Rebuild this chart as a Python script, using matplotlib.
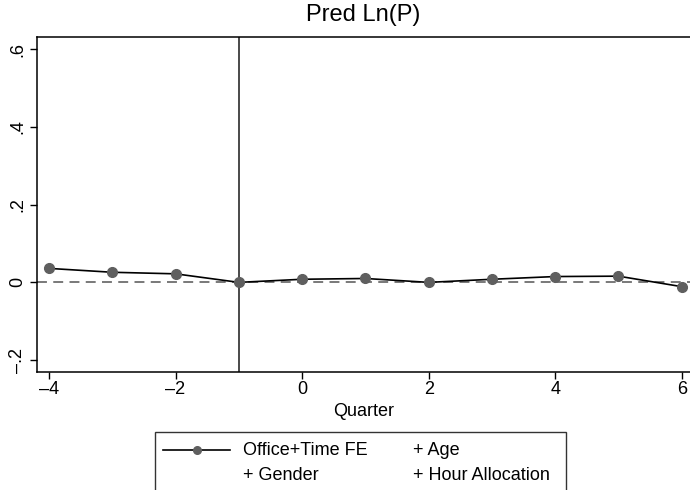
import matplotlib
matplotlib.use("Agg")
import matplotlib.pyplot as plt
from matplotlib.lines import Line2D
from matplotlib.patches import Rectangle

plt.rcParams['font.family'] = ['Liberation Sans', 'DejaVu Sans']

quarters = [-4, -3, -2, -1, 0, 1, 2, 3, 4, 5, 6]
pred_lnp = [0.036, 0.026, 0.022, 0.0, 0.008, 0.010, 0.0, 0.008, 0.015, 0.016, -0.011]
xticks = [-4, -2, 0, 2, 4, 6]
yticks = [-0.2, 0.0, 0.2, 0.4, 0.6]
ytick_labels = ["-.2", "0", ".2", ".4", ".6"]
legend_labels = ["Office+Time FE", "+ Age", "+ Gender", "+ Hour Allocation"]

W, H = 690, 490
fig = plt.figure(figsize=(W / 100, H / 100), dpi=100)

def fx(px):
    return px / W

def fy(py):
    return 1 - py / H

ax = fig.add_axes([fx(37), fy(371.7), fx(690) - fx(37), fy(37.3) - fy(371.7)])

ax.axhline(0, color='#6e6e6e', lw=1.3, ls=(0, (5.5, 3.5)), zorder=1)
ax.axvline(-1, color='#2a2a2a', lw=1.2, zorder=1)
ax.plot(quarters, pred_lnp, color='black', lw=1.2, marker='o', markersize=7,
        markerfacecolor='#5f5f5f', markeredgecolor='#5f5f5f', zorder=3, clip_on=False)

ax.set_xlim(-4.19, 6.131)
ax.set_ylim(-0.230, 0.631)
ax.set_xticks(xticks)
ax.set_xticklabels([str(t).replace('-', '\u2013') for t in xticks])
ax.set_yticks(yticks)
ax.set_yticklabels([l.replace('-', '\u2013') for l in ytick_labels], rotation=90, va='center')
ax.tick_params(axis='both', direction='out', length=5, width=1, color='black',
               labelsize=13, pad=2)
ax.tick_params(axis='y', pad=3)
for s in ['left', 'top', 'bottom']:
    ax.spines[s].set_linewidth(1.1)
    ax.spines[s].set_color('black')
ax.spines['right'].set_visible(False)

ax.set_xlabel("Quarter", fontsize=13, labelpad=3)
ax.set_title("Pred Ln(P)", fontsize=17, pad=12)

# legend box (manual)
rect = Rectangle((fx(155), fy(500)), fx(566) - fx(155), fy(431.7) - fy(500),
                 transform=fig.transFigure, fill=False, edgecolor='#333333', lw=1.0,
                 clip_on=False)
fig.patches.append(rect)
fig.add_artist(Line2D([fx(163), fx(230)], [fy(450), fy(450)], color='black', lw=1.2,
                      transform=fig.transFigure))
fig.add_artist(Line2D([fx(197)], [fy(450)], color='#5f5f5f', marker='o', markersize=5.5,
                      markerfacecolor='#5f5f5f', markeredgecolor='#5f5f5f', lw=0,
                      transform=fig.transFigure))
pos = [(243, 450), (413, 450), (243, 475), (413, 475)]
for lab, (px, py) in zip(legend_labels, pos):
    fig.text(fx(px), fy(py), lab, fontsize=13, ha='left', va='center')

fig.savefig("out.png", dpi=100)
